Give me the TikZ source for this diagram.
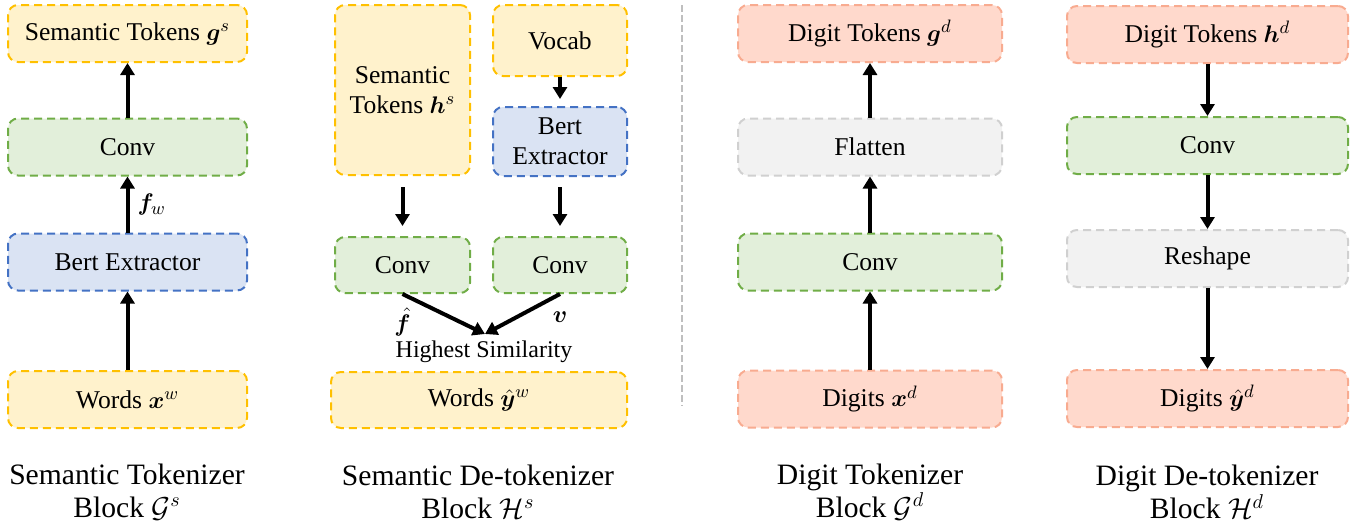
\documentclass[tikz,border=0pt]{standalone}
\usepackage{fontspec}
\setmainfont{Liberation Serif}
\usepackage{amsmath,amssymb,bm}
\usepackage{tikz}
\usetikzlibrary{arrows.meta,positioning}

\definecolor{jauneF}{HTML}{FFF2CC}
\definecolor{jauneB}{HTML}{FFC000}
\definecolor{vertF}{HTML}{E2EFDA}
\definecolor{vertB}{HTML}{70AD47}
\definecolor{bleuF}{HTML}{DAE3F3}
\definecolor{bleuB}{HTML}{4472C4}
\definecolor{grisF}{HTML}{F2F2F2}
\definecolor{grisB}{HTML}{D0D0D0}
\definecolor{rougeF}{HTML}{FFD9CC}
\definecolor{rougeB}{HTML}{F8AB90}

\begin{document}
\begin{tikzpicture}[
	x=0.5pt, y=-0.5pt,
	boite/.style={draw, rounded corners=5pt, line width=1pt, dash pattern=on 4pt off 2.5pt,
		inner sep=0pt, align=center, minimum height=28.5pt, font=\fontsize{12.8}{15}\selectfont},
	tok/.style={boite, draw=jauneB, fill=jauneF},
	conv/.style={boite, draw=vertB, fill=vertF},
	bert/.style={boite, draw=bleuB, fill=bleuF},
	op/.style={boite, draw=grisB, fill=grisF},
	digit/.style={boite, draw=rougeB, fill=rougeF},
	legende/.style={align=center, inner sep=0pt, font=\fontsize{14.8}{16.5}\selectfont},
	lbl/.style={inner sep=0pt, font=\fontsize{12.8}{15}\selectfont},
	fleche/.style={->, line width=2pt},
	>={Triangle[length=6pt,width=7pt]}
	]
	\useasboundingbox (0,0) rectangle (1367,531);

	% Semantic tokenizer
	\node[tok, minimum width=119.5pt] (gs) at (127.5,33.5) {Semantic Tokens $\bm{g}^{s}$};
	\node[conv, minimum width=119.5pt] (c1) at (127.5,147) {Conv};
	\node[bert, minimum width=119.5pt] (b1) at (127.5,262) {Bert Extractor};
	\node[tok, minimum width=119.5pt] (xw) at (127.5,399.5) {Words $\bm{x}^{w}$};
	\node[legende] (L1) at (127,492) {Semantic Tokenizer\\Block $\mathcal{G}^{s}$};

	% Semantic de-tokenizer
	\node[tok, minimum width=67.5pt, minimum height=85pt] (hs) at (402.5,90) {Semantic\\Tokens $\bm{h}^{s}$};
	\node[tok, minimum width=67pt, minimum height=35.5pt] (voc) at (560,40.5) {Vocab};
	\node[bert, minimum width=67pt, minimum height=34.5pt] (b2) at (560,141.5) {Bert\\Extractor};
	\node[conv, minimum width=67.5pt, minimum height=28pt] (c2) at (402.5,265) {Conv};
	\node[conv, minimum width=67pt, minimum height=28pt] (c3) at (560,265) {Conv};
	\node[inner sep=0pt, font=\fontsize{12}{14}\selectfont] (sim) at (484,352) {Highest Similarity};
	\coordinate (m) at (485,334);
	\node[tok, minimum width=148pt, minimum height=28pt] (yw) at (479,400) {Words $\hat{\bm{y}}^{w}$};
	\node[legende] (L2) at (478,492) {Semantic De-tokenizer\\Block $\mathcal{H}^{s}$};

	% Separation
	\coordinate (s1) at (682,5);
	\coordinate (s2) at (682,406);
	\draw[gray!50, line width=1pt, dash pattern=on 3.5pt off 1.5pt] (s1) -- (s2);

	% Digit tokenizer
	\node[digit, minimum width=132pt] (gd) at (870,33.5) {Digit Tokens $\bm{g}^{d}$};
	\node[op, minimum width=132pt] (fl) at (870,147) {Flatten};
	\node[conv, minimum width=132pt] (c4) at (870,262) {Conv};
	\node[digit, minimum width=132pt] (xd) at (870,399) {Digits $\bm{x}^{d}$};
	\node[legende] (L3) at (870,492) {Digit Tokenizer\\Block $\mathcal{G}^{d}$};

	% Digit de-tokenizer
	\node[digit, minimum width=140.5pt] (hd) at (1207.5,34.5) {Digit Tokens $\bm{h}^{d}$};
	\node[conv, minimum width=140.5pt] (c5) at (1207.5,145.5) {Conv};
	\node[op, minimum width=140.5pt] (rs) at (1207.5,258.5) {Reshape};
	\node[digit, minimum width=140.5pt] (yd) at (1207.5,398.5) {Digits $\hat{\bm{y}}^{d}$};
	\node[legende] (L4) at (1207,492) {Digit De-tokenizer\\Block $\mathcal{H}^{d}$};

	% Les fleches
	\draw[fleche] (xw) to (b1);
	\draw[fleche] (b1) to node[midway, right, xshift=4pt, lbl] {$\bm{f}_{w}$} (c1);
	\draw[fleche] (c1) to (gs);
	\draw[fleche, shorten <=5.5pt, shorten >=5pt] (hs) to (c2);
	\draw[fleche, shorten >=3.5pt] (voc) to (b2);
	\draw[fleche, shorten <=5pt, shorten >=5pt] (b2) to (c3);
	\draw[fleche] (c2.south) to node[pos=0, anchor=north, yshift=-6pt, lbl] {$\hat{\bm{f}}$} (m);
	\draw[fleche] (c3.south) to node[pos=0, anchor=north, yshift=-8pt, lbl] {$\bm{v}$} (m);
	\draw[fleche] (xd) to (c4);
	\draw[fleche] (c4) to (fl);
	\draw[fleche] (fl) to (gd);
	\draw[fleche] (hd) to (c5);
	\draw[fleche] (c5) to (rs);
	\draw[fleche] (rs) to (yd);
\end{tikzpicture}
\end{document}
